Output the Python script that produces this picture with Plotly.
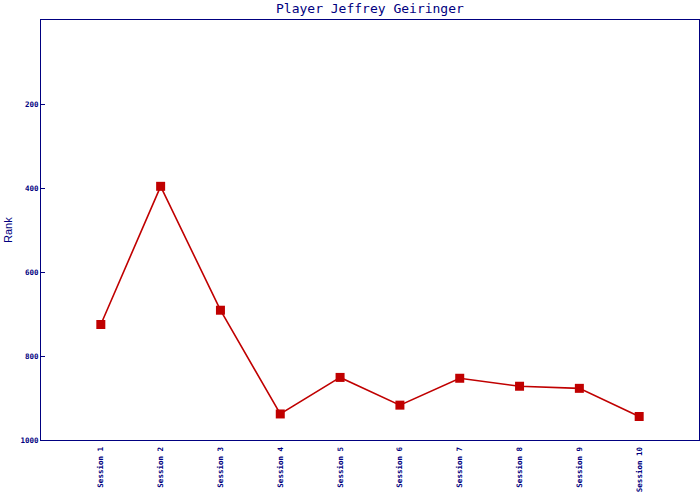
import plotly.graph_objects as go

sessions = ["Session 1", "Session 2", "Session 3", "Session 4", "Session 5",
            "Session 6", "Session 7", "Session 8", "Session 9", "Session 10"]
ranks = [725, 396, 691, 938, 851, 917, 853, 872, 877, 944]
y_ticks = [200, 400, 600, 800, 1000]

navy = "#000080"
red = "#c00000"

fig = go.Figure()
fig.add_trace(go.Scatter(
    x=sessions, y=ranks, mode="lines+markers",
    line=dict(color=red, width=1.6),
    marker=dict(symbol="square", size=9, color=red),
    showlegend=False,
))

fig.update_layout(
    width=700, height=500,
    margin=dict(l=41, r=1, t=20, b=60),
    paper_bgcolor="white", plot_bgcolor="white",
    xaxis=dict(
        type="category", range=[-1, 10], showgrid=False, zeroline=False,
        showline=True, linecolor=navy, linewidth=1, mirror=True, automargin=False,
        ticks="", tickangle=-90, ticklabelstandoff=3,
        tickfont=dict(family="DejaVu Sans Mono", size=7.5, color=navy, weight="bold"),
    ),
    yaxis=dict(
        range=[1000, 0], showgrid=False, zeroline=False, automargin=False,
        showline=True, linecolor=navy, linewidth=1, mirror=True,
        tickvals=y_ticks, ticktext=[str(v) for v in y_ticks],
        ticks="inside", ticklen=4, tickcolor=navy,
        tickfont=dict(family="DejaVu Sans Mono", size=7.5, color=navy, weight="bold"),
    ),
    annotations=[
        dict(text="Player Jeffrey Geiringer", xref="paper", yref="paper",
             x=0.5, y=1, yshift=12, xanchor="center", yanchor="middle",
             showarrow=False,
             font=dict(family="DejaVu Sans Mono", size=13, color=navy)),
        dict(text="Rank", xref="paper", yref="paper", x=0, xshift=-33,
             y=0.5, xanchor="center", yanchor="middle", textangle=-90,
             showarrow=False,
             font=dict(family="Liberation Sans", size=11, color=navy)),
    ],
)

fig.write_html(
    "out.html",
    config={"displayModeBar": False},
    post_script="document.body.style.margin='0';document.body.style.overflow='hidden';",
)
